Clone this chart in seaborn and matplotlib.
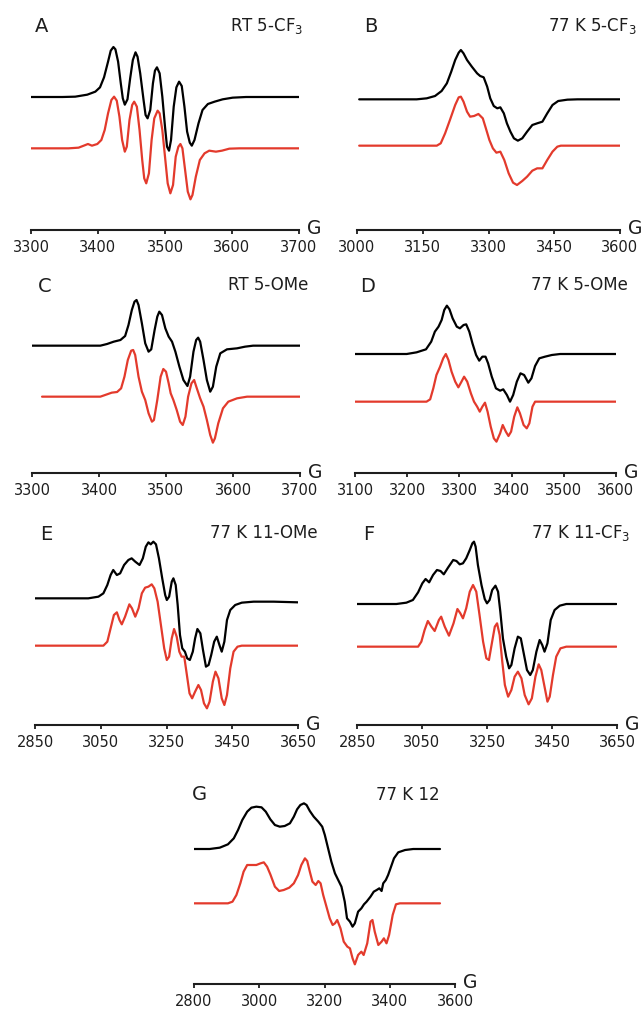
import matplotlib
matplotlib.use("Agg")
import matplotlib.pyplot as plt
import pandas as pd
import seaborn as sns

# field (G), signal (a.u.); exp = black, sim = red
A_exp = [(3300, 0), (3347, 0), (3366, 1), (3384, 7), (3396, 16), (3403, 29), (3409, 59), (3415, 106), (3419, 139),
         (3423, 150), (3426, 143), (3430, 106), (3434, 41), (3437, -4), (3440, -23), (3444, -7), (3448, 56),
         (3452, 111), (3456, 134), (3459, 121), (3463, 71), (3468, -9), (3471, -54), (3474, -64), (3478, -39),
         (3482, 41), (3485, 79), (3488, 89), (3492, 71), (3496, 1), (3500, -89), (3503, -149), (3506, -161),
         (3509, -129), (3513, -29), (3517, 29), (3521, 46), (3525, 33), (3529, -29), (3533, -104), (3537, -137),
         (3540, -146), (3544, -129), (3550, -79), (3556, -39), (3564, -21), (3574, -14), (3586, -7), (3601, -2),
         (3621, 0), (3700, 0)]
A_sim = [(3300, 0), (3356, 0), (3371, 2), (3380, 9), (3385, 13), (3391, 8), (3399, 13), (3405, 25), (3410, 55),
         (3415, 105), (3420, 145), (3424, 155), (3428, 143), (3432, 95), (3436, 25), (3440, -10), (3443, 5),
         (3447, 85), (3451, 130), (3454, 140), (3458, 125), (3462, 55), (3466, -35), (3469, -90), (3472, -105),
         (3476, -75), (3480, 25), (3484, 90), (3489, 113), (3492, 105), (3496, 55), (3500, -25), (3504, -105),
         (3508, -135), (3512, -110), (3516, -25), (3520, 5), (3523, 13), (3526, 0), (3530, -65), (3534, -130),
         (3538, -153), (3541, -140), (3546, -85), (3552, -35), (3559, -15), (3566, -7), (3576, -10), (3585, -7),
         (3596, -1), (3611, 0), (3700, 0)]

B_exp = [(3005, 0), (3136, 0), (3159, 3), (3178, 10), (3193, 25), (3205, 48), (3215, 83), (3224, 118), (3232, 140),
         (3237, 148), (3243, 138), (3251, 118), (3262, 98), (3274, 78), (3281, 70), (3289, 66), (3297, 38),
         (3304, 3), (3312, -20), (3320, -27), (3327, -24), (3335, -42), (3342, -72), (3350, -97), (3358, -117),
         (3367, -124), (3377, -117), (3388, -97), (3400, -77), (3411, -72), (3423, -67), (3434, -42), (3446, -17),
         (3459, -5), (3480, -1), (3503, 0), (3600, 0)]
B_sim = [(3005, 0), (3182, 0), (3191, 7), (3201, 37), (3212, 77), (3224, 122), (3232, 145), (3237, 147), (3243, 132),
         (3251, 102), (3258, 87), (3267, 89), (3277, 95), (3287, 82), (3294, 52), (3302, 17), (3310, -8),
         (3318, -21), (3327, -18), (3336, -43), (3346, -83), (3356, -111), (3365, -118), (3377, -106), (3388, -93),
         (3400, -75), (3411, -68), (3423, -68), (3434, -43), (3446, -18), (3457, -3), (3465, 0), (3600, 0)]

C_exp = [(3300, 0), (3402, 0), (3412, 5), (3422, 12), (3432, 17), (3439, 29), (3444, 62), (3449, 107), (3453, 132),
         (3456, 137), (3459, 122), (3464, 67), (3469, 7), (3474, -18), (3478, -11), (3483, 47), (3487, 87),
         (3490, 102), (3494, 92), (3499, 52), (3504, 27), (3509, 12), (3514, -18), (3520, -63), (3526, -103),
         (3532, -121), (3536, -93), (3541, -18), (3545, 17), (3548, 24), (3551, 12), (3556, -43), (3561, -103),
         (3566, -138), (3570, -123), (3575, -63), (3581, -23), (3591, -11), (3606, -8), (3618, -3), (3630, 0),
         (3703, 0)]
C_sim = [(3315, 0), (3402, 0), (3412, 7), (3419, 12), (3427, 14), (3433, 25), (3438, 60), (3443, 110), (3448, 138),
         (3451, 140), (3454, 125), (3459, 60), (3464, 15), (3469, -10), (3474, -50), (3479, -75), (3482, -70),
         (3487, -10), (3492, 60), (3496, 83), (3500, 75), (3504, 40), (3507, 10), (3511, -10), (3516, -40),
         (3521, -75), (3525, -85), (3529, -60), (3533, 0), (3538, 40), (3542, 50), (3546, 25), (3551, -5),
         (3556, -30), (3561, -70), (3566, -115), (3570, -138), (3573, -125), (3578, -80), (3585, -35), (3593, -15),
         (3606, -5), (3621, 0), (3703, 0)]

D_exp = [(3100, 0), (3199, 0), (3218, 5), (3236, 14), (3246, 37), (3253, 67), (3260, 82), (3266, 102), (3271, 132),
         (3276, 145), (3281, 134), (3287, 107), (3295, 82), (3301, 77), (3308, 87), (3313, 89), (3319, 67),
         (3325, 32), (3332, -3), (3338, -20), (3344, -8), (3350, -8), (3355, -28), (3362, -68), (3370, -103),
         (3378, -110), (3384, -106), (3391, -123), (3397, -143), (3403, -123), (3410, -83), (3417, -58),
         (3424, -63), (3432, -86), (3438, -73), (3445, -36), (3453, -13), (3464, -8), (3477, -3), (3493, 0),
         (3600, 0)]
D_sim = [(3100, 0), (3237, 0), (3244, 7), (3250, 40), (3256, 80), (3263, 105), (3269, 130), (3274, 143), (3279, 125),
         (3285, 90), (3292, 60), (3298, 43), (3304, 60), (3309, 75), (3315, 60), (3322, 25), (3328, 0), (3334, -15),
         (3339, -30), (3344, -15), (3349, -3), (3354, -30), (3360, -75), (3366, -110), (3371, -120), (3378, -95),
         (3383, -70), (3389, -90), (3394, -103), (3399, -90), (3405, -45), (3411, -17), (3416, -35), (3423, -70),
         (3429, -80), (3434, -65), (3440, -15), (3445, 0), (3600, 0)]

E_exp = [(2850, 0), (3012, 0), (3043, 5), (3058, 15), (3070, 40), (3080, 70), (3088, 85), (3099, 70), (3109, 75),
         (3121, 100), (3134, 115), (3144, 120), (3155, 110), (3168, 100), (3178, 120), (3187, 155), (3195, 168),
         (3202, 162), (3210, 170), (3218, 162), (3227, 120), (3237, 60), (3246, 10), (3251, -5), (3258, 5),
         (3266, 50), (3271, 60), (3278, 40), (3284, -20), (3291, -110), (3298, -150), (3306, -160), (3313, -180),
         (3321, -185), (3330, -160), (3337, -120), (3344, -92), (3353, -105), (3361, -155), (3370, -205),
         (3378, -200), (3386, -170), (3395, -130), (3403, -115), (3411, -140), (3418, -160), (3426, -130),
         (3434, -65), (3444, -35), (3459, -20), (3479, -13), (3515, -10), (3576, -10), (3650, -12)]
E_sim = [(2850, 0), (3058, 0), (3070, 12), (3080, 52), (3090, 92), (3099, 100), (3107, 77), (3114, 64), (3124, 87),
         (3137, 124), (3145, 112), (3155, 87), (3165, 112), (3175, 157), (3185, 174), (3195, 177), (3205, 184),
         (3213, 172), (3223, 132), (3233, 62), (3243, -8), (3251, -43), (3258, -33), (3266, 22), (3273, 50),
         (3281, 27), (3289, -18), (3296, -33), (3304, -33), (3312, -88), (3320, -143), (3328, -158), (3337, -138),
         (3347, -118), (3355, -133), (3364, -173), (3373, -188), (3381, -168), (3391, -108), (3399, -78),
         (3408, -98), (3418, -158), (3426, -178), (3434, -148), (3444, -68), (3454, -18), (3466, -3), (3479, 0),
         (3650, 0)]

F_exp = [(2850, 0), (2971, 0), (3002, 4), (3022, 12), (3038, 35), (3051, 62), (3061, 75), (3072, 65), (3084, 87),
         (3096, 102), (3107, 99), (3117, 89), (3130, 109), (3146, 132), (3156, 129), (3166, 119), (3176, 122),
         (3186, 137), (3197, 162), (3205, 182), (3210, 187), (3215, 172), (3222, 117), (3233, 57), (3243, 15),
         (3250, 2), (3258, 12), (3266, 42), (3276, 55), (3284, 37), (3291, -23), (3299, -103), (3309, -158),
         (3318, -193), (3325, -183), (3335, -133), (3345, -98), (3354, -103), (3363, -148), (3373, -198),
         (3383, -213), (3391, -198), (3402, -143), (3412, -108), (3420, -123), (3427, -143), (3436, -118),
         (3446, -48), (3458, -18), (3474, -5), (3494, 0), (3648, 0)]
F_sim = [(2850, 0), (3038, 0), (3048, 15), (3058, 50), (3068, 77), (3079, 60), (3089, 47), (3102, 80), (3109, 90),
         (3120, 60), (3133, 33), (3147, 70), (3159, 113), (3168, 100), (3176, 85), (3186, 115), (3197, 165),
         (3207, 185), (3217, 165), (3227, 95), (3238, 15), (3248, -35), (3256, -40), (3264, 5), (3274, 60),
         (3281, 70), (3289, 35), (3297, -45), (3305, -115), (3315, -150), (3325, -130), (3335, -90), (3345, -75),
         (3356, -95), (3366, -145), (3378, -173), (3388, -155), (3399, -90), (3409, -53), (3417, -70), (3428, -125),
         (3436, -165), (3443, -150), (3453, -85), (3463, -30), (3476, -5), (3494, 0), (3648, 0)]

G_exp = [(2800, 0), (2848, 0), (2879, 4), (2904, 14), (2922, 32), (2935, 57), (2948, 87), (2963, 112), (2976, 124),
         (2991, 127), (3007, 125), (3020, 112), (3034, 89), (3048, 72), (3063, 67), (3078, 69), (3094, 77),
         (3106, 97), (3116, 119), (3126, 132), (3137, 137), (3145, 132), (3155, 114), (3167, 97), (3181, 82),
         (3193, 67), (3201, 42), (3211, 2), (3221, -38), (3232, -73), (3242, -93), (3252, -113), (3262, -158),
         (3269, -208), (3278, -218), (3286, -233), (3293, -223), (3303, -188), (3313, -178), (3321, -166),
         (3329, -158), (3341, -143), (3351, -128), (3360, -123), (3368, -118), (3375, -126), (3380, -103),
         (3388, -93), (3395, -78), (3404, -53), (3413, -28), (3426, -10), (3447, -3), (3472, 0), (3554, 0)]
G_sim = [(2800, 0), (2904, 0), (2918, 5), (2930, 25), (2942, 60), (2952, 95), (2963, 115), (2976, 115), (2991, 115),
         (3004, 120), (3014, 123), (3024, 110), (3034, 87), (3048, 50), (3061, 37), (3075, 40), (3092, 47),
         (3106, 60), (3119, 85), (3129, 115), (3140, 135), (3147, 127), (3155, 95), (3163, 65), (3173, 55),
         (3181, 67), (3188, 60), (3196, 25), (3206, -10), (3216, -45), (3225, -65), (3232, -60), (3239, -50),
         (3249, -75), (3259, -115), (3270, -130), (3278, -135), (3286, -165), (3293, -183), (3303, -155),
         (3313, -145), (3320, -155), (3331, -120), (3341, -55), (3347, -50), (3354, -85), (3365, -125),
         (3375, -115), (3382, -105), (3390, -120), (3398, -95), (3409, -35), (3419, -3), (3431, 0), (3554, 0)]

ticks_A = [3300, 3400, 3500, 3600, 3700]
ticks_B = [3000, 3150, 3300, 3450, 3600]
ticks_C = [3300, 3400, 3500, 3600, 3700]
ticks_D = [3100, 3200, 3300, 3400, 3500, 3600]
ticks_E = [2850, 3050, 3250, 3450, 3650]
ticks_F = [2850, 3050, 3250, 3450, 3650]
ticks_G = [2800, 3000, 3200, 3400, 3600]

titles = {"A": "RT 5-CF$_3$", "B": "77 K 5-CF$_3$", "C": "RT 5-OMe", "D": "77 K 5-OMe",
          "E": "77 K 11-OMe", "F": "77 K 11-CF$_3$", "G": "77 K 12"}

sns.set_style("ticks")
plt.rcParams["font.family"] = ["DejaVu Sans"]
plt.rcParams["mathtext.fontset"] = "dejavusans"

W, H = 644, 1016
TXT = "#1e1e1e"
RED = "#e33a2c"

fig = plt.figure(figsize=(W / 100, H / 100), dpi=100)

# layout in pixels: left/right px of the field range, axis line y, top y,
# baseline offsets of black/red trace above axis (signal units), letter and title anchors
layout = {
    "A": dict(exp=A_exp, sim=A_sim, ticks=ticks_A, px=(31, 299), axis=230, top=5, off=(399, 245),
              letter=(35, 26), title=(303, 26)),
    "B": dict(exp=B_exp, sim=B_sim, ticks=ticks_B, px=(357, 620), axis=230, top=5, off=(392, 253),
              letter=(364, 26), title=(637, 26)),
    "C": dict(exp=C_exp, sim=C_sim, ticks=ticks_C, px=(32, 300), axis=473, top=262, off=(382, 229),
              letter=(38, 287), title=(308, 285)),
    "D": dict(exp=D_exp, sim=D_sim, ticks=ticks_D, px=(355, 616), axis=473, top=262, off=(357, 214),
              letter=(360, 286), title=(628, 285)),
    "E": dict(exp=E_exp, sim=E_sim, ticks=ticks_E, px=(35, 298), axis=725, top=510, off=(380, 238),
              letter=(40, 534), title=(318, 533)),
    "F": dict(exp=F_exp, sim=F_sim, ticks=ticks_F, px=(357, 617), axis=725, top=510, off=(363, 235),
              letter=(363, 534), title=(630, 533)),
    "G": dict(exp=G_exp, sim=G_sim, ticks=ticks_G, px=(194, 455), axis=984, top=765, off=(405, 242),
              letter=(192, 795), title=(440, 795)),
}

for name, p in layout.items():
    left, right = p["px"]
    ax = fig.add_axes([left / W, 1 - p["axis"] / H, (right - left) / W, (p["axis"] - p["top"]) / H])
    ax.patch.set_alpha(0)

    exp = pd.DataFrame(p["exp"], columns=["field", "signal"])
    sim = pd.DataFrame(p["sim"], columns=["field", "signal"])
    exp["signal"] = exp["signal"] + p["off"][0]
    sim["signal"] = sim["signal"] + p["off"][1]
    sns.lineplot(data=exp, x="field", y="signal", color="black", lw=1.6, estimator=None, sort=False, ax=ax)
    sns.lineplot(data=sim, x="field", y="signal", color=RED, lw=1.6, estimator=None, sort=False, ax=ax)

    ax.set_xlim(p["ticks"][0], p["ticks"][-1])
    ax.set_ylim(0, 3 * (p["axis"] - p["top"]))
    ax.set_xticks(p["ticks"])
    ax.set_xticklabels([str(t) for t in p["ticks"]])
    ax.set_yticks([])
    ax.set_xlabel("")
    ax.set_ylabel("")
    sns.despine(ax=ax, left=True)
    ax.spines["bottom"].set_linewidth(1.5)
    ax.spines["bottom"].set_color(TXT)
    ax.tick_params(axis="x", bottom=True, direction="out", length=3, width=1.3, pad=4.5,
                   labelsize=10.5, color=TXT, labelcolor=TXT)

    fig.text((right + 8) / W, 1 - (p["axis"] - 1) / H, "G", ha="left", va="center", fontsize=13.5, color=TXT)
    lx, ly = p["letter"]
    fig.text(lx / W, 1 - ly / H, name, ha="left", va="center", fontsize=14, color=TXT)
    tx, ty = p["title"]
    fig.text(tx / W, 1 - ty / H, titles[name], ha="right", va="center", fontsize=12, color=TXT)

fig.savefig("out.png", dpi=100, facecolor="white")
